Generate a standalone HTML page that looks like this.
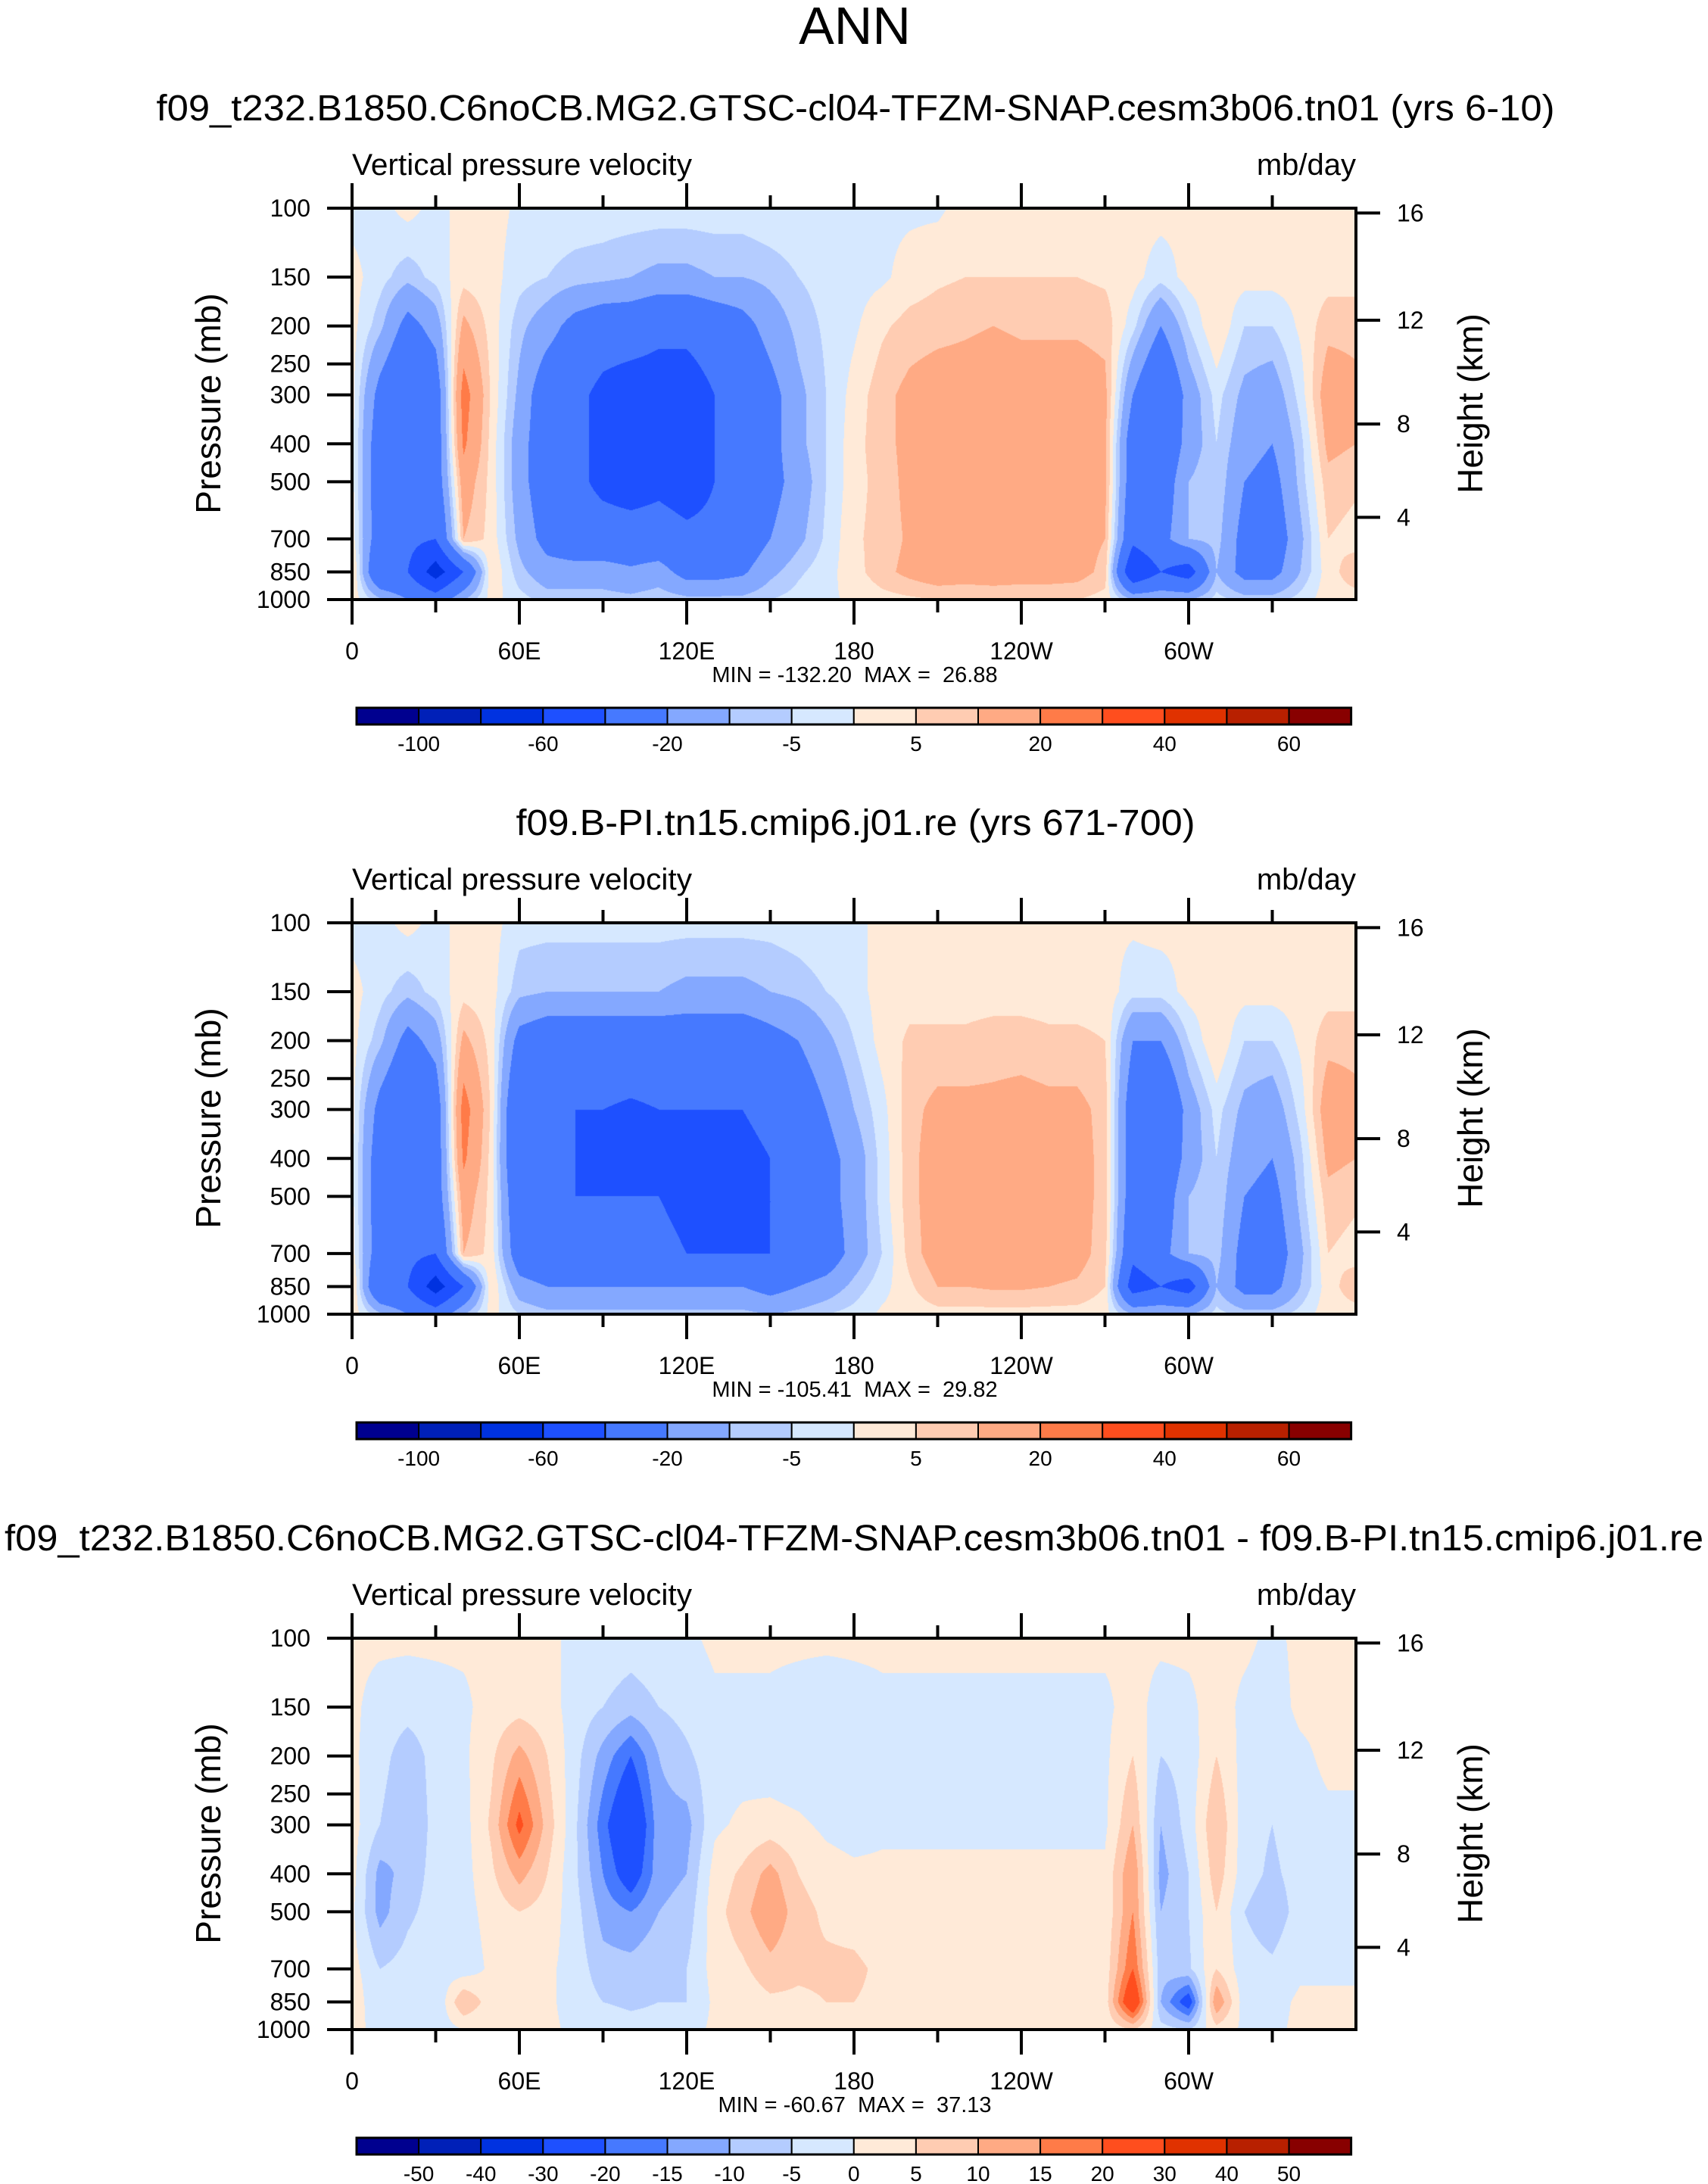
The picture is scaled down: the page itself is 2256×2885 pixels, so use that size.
<!DOCTYPE html>
<html><head><meta charset="utf-8">
<style>
html,body{margin:0;padding:0;background:#fff;}
#root{position:relative;width:2256px;height:2885px;overflow:hidden;}
canvas{position:absolute;}
svg{position:absolute;left:0;top:0;}
text{font-family:"Liberation Sans",sans-serif;fill:#000;white-space:pre;}
</style></head>
<body>
<div id="root">
<canvas id="c1" width="1326" height="517" style="left:465px;top:275px"></canvas>
<canvas id="c2" width="1326" height="517" style="left:465px;top:1219px"></canvas>
<canvas id="c3" width="1326" height="517" style="left:465px;top:2164px"></canvas>
<svg id="svg" width="2256" height="2885">
<text x="1129" y="58" font-size="70" text-anchor="middle">ANN</text>
</svg>
</div>
<script>
const lons=[0,10,20,30,40,50,60,70,80,90,100,110,120,130,140,150,160,170,180,190,200,210,220,230,240,250,260,270,280,290,300,310,320,330,340,350,360];
const levels=[100,150,200,300,400,500,700,850,1000];
const pTicks=[100,150,200,250,300,400,500,700,850,1000];
const hTicks=[4,8,12,16];
const xTickVals=[0,60,120,180,240,300];
const xTickLabels=["0","60E","120E","180","120W","60W"];
const palette=["#00008F","#0020B8","#0032E0","#1E50FF","#4679FF","#84A8FF","#B4CCFF","#D6E8FF","#FFEAD8","#FFCCB2","#FFAA84","#FF7B48","#FF4E1E","#E03200","#B82000","#880000"];
const levels1=[-100,-80,-60,-40,-20,-10,-5,0,5,10,20,30,40,50,60];
const labels1=["-100","","-60","","-20","","-5","","5","","20","","40","","60"];
const levels3=[-50,-40,-30,-20,-15,-10,-5,0,5,10,15,20,30,40,50];
const labels3=["-50","-40","-30","-20","-15","-10","-5","0","5","10","15","20","30","40","50"];
const titles=["f09_t232.B1850.C6noCB.MG2.GTSC-cl04-TFZM-SNAP.cesm3b06.tn01 (yrs 6-10)","f09.B-PI.tn15.cmip6.j01.re (yrs 671-700)","f09_t232.B1850.C6noCB.MG2.GTSC-cl04-TFZM-SNAP.cesm3b06.tn01 - f09.B-PI.tn15.cmip6.j01.re"];
const minmax=["MIN = -132.20  MAX =  26.88","MIN = -105.41  MAX =  29.82","MIN = -60.67  MAX =  37.13"];
const field1=[
[-2,2,2,2,2,2,3,8,3],
[-2,-3,-8,-25,-30,-30,-30,-40,-8],
[2,-8,-25,-40,-35,-35,-35,-40,-20],
[-2,-3,-15,-30,-30,-30,-40,-70,-30],
[2,3,12,25,22,15,10,-40,-10],
[2,2,3,4,3,3,3,5,2],
[-1,-3,-8,-12,-15,-15,-12,-8,-3],
[-2,-5,-15,-30,-30,-30,-25,-15,-7],
[-2,-7,-25,-35,-35,-35,-30,-15,-7],
[-2,-8,-30,-45,-45,-45,-30,-15,-7],
[-2,-10,-30,-50,-55,-50,-30,-18,-8],
[-2,-12,-35,-50,-50,-45,-30,-15,-6],
[-2,-12,-35,-50,-55,-50,-35,-25,-8],
[-2,-10,-30,-40,-40,-40,-35,-25,-8],
[-2,-10,-25,-35,-35,-35,-30,-22,-8],
[-1,-8,-15,-25,-25,-25,-20,-12,-5],
[-1,-5,-8,-12,-12,-15,-12,-6,-3],
[-1,-3,-4,-5,-5,-5,-4,-2,-1],
[-1,-2,-1,2,3,3,4,3,1],
[-1,-1,4,8,8,7,7,8,3],
[-1,2,7,12,12,12,11,12,4],
[-1,4,8,14,14,14,14,15,5],
[2,5,9,14,14,14,14,14,5],
[2,5,10,15,14,14,14,15,5],
[2,5,9,14,15,14,14,14,5],
[2,5,9,14,14,14,14,14,5],
[2,5,9,14,14,14,13,13,5],
[2,4,8,12,12,12,10,8,3],
[2,2,-3,-20,-30,-30,-35,-60,-10],
[2,-3,-20,-40,-35,-30,-25,-40,-10],
[1,2,-5,-15,-15,-10,-10,-50,-10],
[2,3,5,-3,-5,-5,-7,-10,-3],
[2,2,-5,-12,-15,-20,-25,-25,-7],
[2,2,-5,-15,-20,-25,-30,-25,-7],
[2,2,1,-3,-7,-8,-12,-10,-3],
[2,3,8,15,12,8,5,3,3],
[2,3,8,12,10,6,3,8,3]];
const field2=[
[-2,2,2,2,2,2,3,8,3],
[-2,-3,-8,-25,-30,-30,-30,-40,-8],
[2,-8,-25,-40,-35,-35,-35,-40,-20],
[-2,-3,-15,-30,-30,-30,-40,-70,-30],
[2,3,12,25,22,15,10,-40,-10],
[2,2,3,4,3,3,3,5,2],
[-3,-8,-25,-40,-40,-35,-30,-15,-5],
[-3,-10,-30,-40,-40,-40,-35,-20,-8],
[-3,-10,-30,-40,-40,-40,-35,-20,-8],
[-3,-10,-30,-40,-42,-40,-35,-20,-8],
[-3,-10,-30,-42,-45,-40,-35,-20,-8],
[-3,-10,-30,-40,-40,-40,-35,-20,-8],
[-3,-12,-30,-40,-45,-45,-40,-20,-8],
[-3,-12,-30,-40,-45,-45,-40,-20,-8],
[-3,-12,-30,-40,-45,-45,-40,-20,-8],
[-3,-10,-25,-35,-40,-40,-40,-25,-10],
[-2,-8,-20,-30,-35,-35,-35,-20,-8],
[-1,-5,-12,-20,-25,-25,-30,-15,-5],
[-1,-2,-5,-10,-15,-15,-15,-8,-3],
[1,2,2,-2,-3,-3,-5,-2,1],
[1,3,6,8,8,8,7,4,2],
[1,3,6,12,14,14,14,10,3],
[1,3,6,12,14,14,14,10,3],
[1,3,7,12,14,14,14,11,3],
[1,3,7,13,14,14,14,11,3],
[1,3,6,12,14,14,14,10,3],
[1,3,6,12,13,13,13,9,3],
[1,3,5,8,8,8,7,5,2],
[1,-3,-20,-30,-30,-30,-35,-50,-10],
[2,-3,-20,-40,-35,-30,-25,-40,-10],
[1,2,-5,-15,-15,-10,-10,-50,-10],
[2,3,5,-3,-5,-5,-7,-10,-3],
[2,2,-5,-12,-15,-20,-25,-25,-7],
[2,2,-5,-15,-20,-25,-30,-25,-7],
[2,2,1,-3,-7,-8,-12,-10,-3],
[2,3,8,15,12,8,5,3,3],
[2,3,8,12,10,6,3,8,3]];
const field3=[
[1,1,1,2,2,1,2,4,2],
[1,-2,-3,-5,-12,-12,-5,-5,-2],
[1,-3,-8,-10,-8,-6,-3,-5,-2],
[1,-2,-3,-3,-3,-3,-2,-5,-3],
[1,-1,-1,-2,-2,-2,-3,10,0],
[1,2,4,6,4,2,1,2,1],
[1,3,12,22,12,5,2,1,1],
[1,2,5,8,5,3,1,1,1],
[-1,-2,-3,-4,-4,-3,-2,-2,-1],
[-1,-5,-12,-18,-15,-12,-8,-5,-2],
[-2,-8,-20,-30,-25,-15,-8,-6,-3],
[-1,-5,-10,-12,-12,-10,-6,-5,-3],
[-1,-3,-6,-12,-10,-8,-5,-5,-2],
[1,-1,-2,-1,2,3,2,1,1],
[1,-1,-2,1,6,8,4,2,1],
[1,-1,-3,2,12,15,8,4,2],
[1,-2,-4,1,5,7,6,4,2],
[1,-3,-4,-1,2,4,6,5,2],
[1,-2,-3,-2,1,3,6,5,2],
[1,-1,-2,-1,1,2,4,4,2],
[1,-1,-2,-1,1,2,4,4,2],
[1,-1,-2,-1,1,2,4,4,2],
[1,-1,-3,-1,1,2,4,4,2],
[1,-1,-2,-1,1,2,3,4,2],
[1,-1,-2,-1,1,2,3,3,2],
[1,-1,-2,-1,1,2,3,3,2],
[1,-1,-2,-1,1,2,3,3,2],
[1,-1,-1,-1,1,1,2,2,1],
[1,2,5,10,15,15,20,30,5],
[1,-2,-5,-10,-12,-10,-8,-10,-3],
[1,-1,-3,-3,-5,-5,-6,-25,-5],
[1,2,5,10,8,5,5,15,3],
[1,-1,-2,-3,-3,-5,-3,-3,-1],
[-1,-2,-3,-5,-6,-8,-4,-2,-1],
[1,1,-1,-2,-3,-3,-1,1,1],
[1,1,1,-1,-3,-3,-1,1,1],
[1,1,1,-1,-3,-3,-1,1,1]];

const PL=465,PW=1326,PH=517;
const panelTops=[275,1219,2164];
function xOf(lon){return PL+lon/360*PW;}
function yOfP(p,top){return top+(Math.log10(p)-2)*PH;}
function pOfZ(zkm){const z=zkm*1000;if(z<=11000)return 1013.25*Math.pow(1-2.25577e-5*z,5.25588);return 226.32*Math.exp(-(z-11000)/6341.6);}
function hex(c){return [parseInt(c.slice(1,3),16),parseInt(c.slice(3,5),16),parseInt(c.slice(5,7),16)];}
const palRGB=palette.map(hex);
const lp=levels.map(p=>Math.log10(p));
function drawField(id,field,lev){
  const cv=document.getElementById(id),ctx=cv.getContext('2d');
  const img=ctx.createImageData(PW,PH),d=img.data;
  const colIdx=[],colF=[];
  for(let i=0;i<PW;i++){const lon=(i+0.5)/PW*360;let k=0;while(k<lons.length-2&&lons[k+1]<lon)k++;colIdx.push(k);colF.push((lon-lons[k])/(lons[k+1]-lons[k]));}
  for(let j=0;j<PH;j++){
    const l=2+(j+0.5)/PH;let m=0;while(m<lp.length-2&&lp[m+1]<l)m++;const f=(l-lp[m])/(lp[m+1]-lp[m]);
    for(let i=0;i<PW;i++){
      const k=colIdx[i],g=colF[i];
      const a=field[k][m]*(1-f)+field[k][m+1]*f,b=field[k+1][m]*(1-f)+field[k+1][m+1]*f;
      const v=a*(1-g)+b*g;
      let c=0;while(c<lev.length&&v>=lev[c])c++;
      const rgb=palRGB[c],o=(j*PW+i)*4;d[o]=rgb[0];d[o+1]=rgb[1];d[o+2]=rgb[2];d[o+3]=255;
    }
  }
  ctx.putImageData(img,0,0);
}
drawField('c1',field1,levels1);
drawField('c2',field2,levels1);
drawField('c3',field3,levels3);

const svg=document.getElementById('svg');const NS='http://www.w3.org/2000/svg';
function mk(tag,attrs,name,txt){const e=document.createElementNS(NS,tag);for(const k in attrs)e.setAttribute(k,attrs[k]);


if(txt!==undefined)e.textContent=txt;svg.appendChild(e);return e;}
const titleSpec=[[1130,1847],[1130,897],[1128,2244]];
for(let p=0;p<3;p++){
  const T=panelTops[p],B=T+PH,R=PL+PW;
  mk('text',{x:titleSpec[p][0],y:T-116,'font-size':48,'text-anchor':'middle',textLength:titleSpec[p][1],lengthAdjust:'spacingAndGlyphs'},'panel-title',titles[p]);
  mk('text',{x:PL,y:T-44,'font-size':40,textLength:449,lengthAdjust:'spacingAndGlyphs'},'variable-label','Vertical pressure velocity');
  mk('text',{x:R,y:T-44,'font-size':40,'text-anchor':'end'},'units-label','mb/day');
  mk('rect',{x:PL,y:T,width:PW,height:PH,fill:'none',stroke:'#000','stroke-width':4},'plot-frame');
  for(let lon=0;lon<360;lon+=30){
    const x=xOf(lon),maj=lon%60===0,L=maj?33:17;
    mk('line',{x1:x,y1:T,x2:x,y2:T-L,stroke:'#000','stroke-width':4},'x-tick-top');
    mk('line',{x1:x,y1:B,x2:x,y2:B+L,stroke:'#000','stroke-width':4},'x-tick-bottom');
  }
  xTickVals.forEach((v,i)=>mk('text',{x:xOf(v),y:T+596,'font-size':32,'text-anchor':'middle'},'x-tick-label',xTickLabels[i]));
  pTicks.forEach(pv=>{const y=yOfP(pv,T);
    mk('line',{x1:PL-33,y1:y,x2:PL,y2:y,stroke:'#000','stroke-width':4},'y-tick');
    mk('text',{x:410,y:y+11,'font-size':32,'text-anchor':'end'},'y-tick-label',String(pv));});
  hTicks.forEach(h=>{const y=yOfP(pOfZ(h),T);
    mk('line',{x1:R,y1:y,x2:R+32,y2:y,stroke:'#000','stroke-width':4},'height-tick');
    mk('text',{x:1845,y:y+11,'font-size':32},'height-tick-label',String(h));});
  mk('text',{x:0,y:0,'font-size':46,'text-anchor':'middle',transform:`translate(291,${T+258}) rotate(-90)`},'y-axis-title','Pressure (mb)');
  mk('text',{x:0,y:0,'font-size':46,'text-anchor':'middle',transform:`translate(1958,${T+258}) rotate(-90)`},'right-axis-title','Height (km)');
  mk('text',{x:1129,y:T+626,'font-size':29,'text-anchor':'middle'},'min-max-label',minmax[p]);
  const cy=T+660,cw=82.1,cx=471;
  const labs=p===2?labels3:labels1;
  palette.forEach((c,i)=>mk('rect',{x:cx+i*cw,y:cy,width:cw,height:22,fill:c,stroke:'#000','stroke-width':2},'colorbar-box'));
  mk('rect',{x:cx,y:cy,width:cw*16,height:22,fill:'none',stroke:'#000','stroke-width':3},'colorbar-frame');
  labs.forEach((s,i)=>{if(s)mk('text',{x:cx+(i+1)*cw,y:T+717,'font-size':28,'text-anchor':'middle'},'colorbar-label',s);});
}
</script>
</body></html>
